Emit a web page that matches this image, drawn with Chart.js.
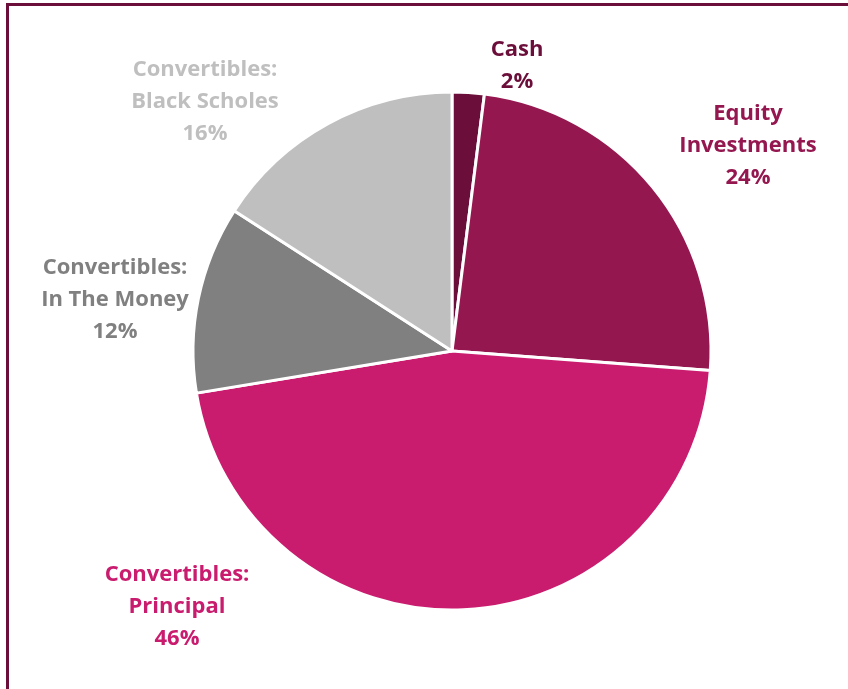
<!DOCTYPE html>
<html>
<head>
<meta charset="utf-8">
<script src="https://cdn.jsdelivr.net/npm/chart.js@4.4.1/dist/chart.umd.min.js"></script>
<style>
  html, body { margin: 0; padding: 0; background: #fff; overflow: hidden; }
  #frame {
    position: absolute; left: 6px; top: 3px; width: 900px; height: 750px;
    border-left: 3px solid #6b0f3a; border-top: 3px solid #6b0f3a;
    box-sizing: border-box;
  }
  #wrap { position: absolute; left: 0; top: 0; width: 848px; height: 689px; }
</style>
</head>
<body>
<div id="frame"></div>
<div id="wrap"><canvas id="pie"></canvas></div>
<script>
// Portfolio mix, clockwise from 12 o'clock
const categories = ['Cash', 'Equity Investments', 'Convertibles: Principal', 'Convertibles: In The Money', 'Convertibles: Black Scholes'];
const shares = [2.0, 24.2, 46.2, 11.7, 15.9];
const labelLines = [
    ['Cash'],
    ['Equity', 'Investments'],
    ['Convertibles:', 'Principal'],
    ['Convertibles:', 'In The Money'],
    ['Convertibles:', 'Black Scholes']
];
const sliceColors = ['#6b0f3a', '#95174f', '#c91c6e', '#808080', '#bfbfbf'];

// label anchor (centre of text block) in canvas pixels
const labelAnchors = [[517, 66], [748, 146], [177, 607], [115, 300], [205, 102]];

const sliceLabels = {
    id: 'sliceLabels',
    afterDraw(chart) {
        const ctx = chart.ctx;
        const ds = chart.data.datasets[0];
        ctx.save();
        ctx.font = 'bold 22px "Open Sans"';
        ctx.textAlign = 'center';
        ctx.textBaseline = 'middle';
        const lh = 32;
        ds.data.forEach((v, i) => {
            const lines = [...labelLines[i], Math.round(v) + '%'];
            const [cx, cy] = labelAnchors[i];
            const top = cy - (lines.length - 1) * lh / 2;
            ctx.fillStyle = sliceColors[i];
            lines.forEach((t, k) => ctx.fillText(t, cx, top + k * lh));
        });
        ctx.restore();
    }
};

new Chart(document.getElementById('pie'), {
    type: 'pie',
    data: {
        labels: categories,
        datasets: [{
            data: shares,
            backgroundColor: sliceColors,
            borderColor: '#ffffff',
            borderWidth: 3
        }]
    },
    options: {
        responsive: true,
        maintainAspectRatio: false,
        animation: false,
        layout: { padding: { left: 56, right: 0, top: 90.5, bottom: 77.5 } },
        plugins: {
            legend: { display: false },
            tooltip: { enabled: false }
        }
    },
    plugins: [sliceLabels]
});
</script>
</body>
</html>
